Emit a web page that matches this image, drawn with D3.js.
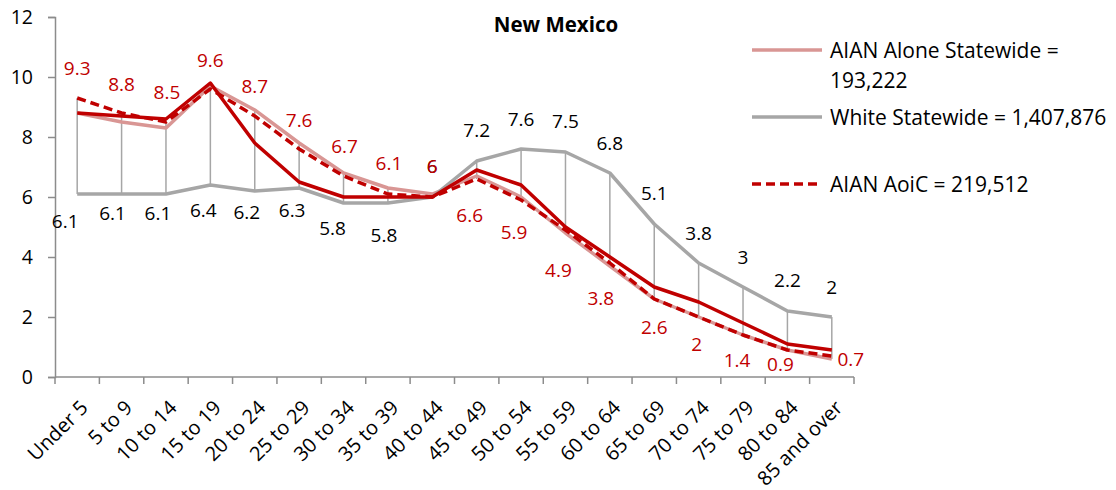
<!DOCTYPE html>
<html>
<head>
<meta charset="utf-8">
<script src="https://cdn.jsdelivr.net/npm/d3@7"></script>
<style>
  html, body { margin: 0; padding: 0; background: #fff; }
  svg { display: block; font-family: "Open Sans", Lato, sans-serif; }
</style>
</head>
<body>
<svg id="chart" width="1116" height="490"></svg>
<script>
// ---------- data ----------
const categories = ["Under 5","5 to 9","10 to 14","15 to 19","20 to 24","25 to 29","30 to 34","35 to 39","40 to 44","45 to 49","50 to 54","55 to 59","60 to 64","65 to 69","70 to 74","75 to 79","80 to 84","85 and over"];
const aianAlone = [8.8, 8.5, 8.3, 9.7, 8.9, 7.8, 6.8, 6.3, 6.1, 6.7, 6.0, 4.8, 3.7, 2.6, 2.0, 1.4, 0.9, 0.6];
const white     = [6.1, 6.1, 6.1, 6.4, 6.2, 6.3, 5.8, 5.8, 6.0, 7.2, 7.6, 7.5, 6.8, 5.1, 3.8, 3.0, 2.2, 2.0];
const aianOther = [8.8, 8.7, 8.6, 9.8, 7.8, 6.5, 6.0, 6.0, 6.0, 6.9, 6.4, 5.0, 4.0, 3.0, 2.5, 1.8, 1.1, 0.9];
const aianAoiC  = [9.3, 8.8, 8.5, 9.6, 8.7, 7.6, 6.7, 6.1, 6.0, 6.6, 5.9, 4.9, 3.8, 2.6, 2.0, 1.4, 0.9, 0.7];
const yTicks = [0, 2, 4, 6, 8, 10, 12];
const title = "New Mexico";
const legendItems = [
  { lines: ["AIAN Alone Statewide =", "193,222"], key: "alone" },
  { lines: ["White Statewide = 1,407,876"], key: "white" },
  { lines: ["AIAN AoiC = 219,512"], key: "aoic" }
];

// ---------- layout / style (not data) ----------
const plot = { left: 55, right: 854, top: 17, bottom: 377 };
const fontSize = 19;
const catFontSize = 20;
const legendFontSize = 21;
const styles = {
  alone: { color: "#d99694", width: 3.5, dash: null },
  white: { color: "#a6a6a6", width: 3.5, dash: null },
  other: { color: "#c00000", width: 3.5, dash: null },
  aoic:  { color: "#c00000", width: 3.5, dash: "9,5" }
};
// label offsets (text centre relative to its point)
const whiteLabelOff = [[-12,27],[-9,19],[-8,19],[-7,25],[-8,21],[-7,22],[-11,25],[-4,32],[0,-31],[0,-31],[0,-30],[0,-31],[0,-30],[0,-31],[0,-30],[0,-30],[0,-31],[0,-30]];
const aoicLabelOff = [[0,-30],[0,-29],[1,-30],[0,-29],[0,-30],[0,-29],[1,-30],[1,-31],[0,-31],[-7,36],[-7,32],[-7,40],[-9,35],[0,28],[-2,27],[-6,25],[-7,14.5],[19,3.5]];

const svg = d3.select("#chart");

const x = d3.scaleBand().domain(categories).range([plot.left, plot.right]).paddingInner(0).paddingOuter(0);
const y = d3.scaleLinear().domain([0, 12]).range([plot.bottom, plot.top]);
const cx = c => x(c) + x.bandwidth() / 2;

// title
svg.append("text")
  .attr("x", 556).attr("y", 32)
  .attr("text-anchor", "middle")
  .attr("font-weight", "bold")
  .attr("font-size", 20.5)
  .attr("fill", "#000")
  .text(title);

// y axis
const yAxis = d3.axisLeft(y).tickValues(yTicks).tickSize(7).tickPadding(15).tickFormat(d3.format("d"));
const gy = svg.append("g").attr("transform", `translate(${plot.left},0)`).call(yAxis);
gy.select(".domain").attr("stroke", "#8c8c8c").attr("stroke-width", 1.5);
gy.selectAll(".tick line").attr("stroke", "#8c8c8c").attr("stroke-width", 1.5);
gy.selectAll(".tick text").attr("font-size", 19.5).attr("font-family", "Open Sans").attr("fill", "#000");

// x axis
const gx = svg.append("g").attr("transform", `translate(0,${plot.bottom})`);
gx.append("line").attr("x1", plot.left).attr("x2", plot.right).attr("y1", 0).attr("y2", 0)
  .attr("stroke", "#8c8c8c").attr("stroke-width", 1.5);
gx.selectAll("line.tk").data(d3.range(categories.length + 1)).join("line")
  .attr("class", "tk")
  .attr("x1", i => plot.left + i * x.step()).attr("x2", i => plot.left + i * x.step())
  .attr("y1", 0).attr("y2", 7)
  .attr("stroke", "#8c8c8c").attr("stroke-width", 1.5);
gx.selectAll("text").data(categories).join("text")
  .attr("transform", d => `translate(${cx(d) + 12},${32}) rotate(-45)`)
  .attr("text-anchor", "end")
  .attr("font-size", catFontSize)
  .attr("fill", "#000")
  .text(d => d);

// high-low lines
const allSeries = [aianAlone, white, aianOther, aianAoiC];
svg.append("g").selectAll("line").data(categories).join("line")
  .attr("x1", d => cx(d)).attr("x2", d => cx(d))
  .attr("y1", (d, i) => y(d3.max(allSeries, s => s[i])))
  .attr("y2", (d, i) => y(d3.min(allSeries, s => s[i])))
  .attr("stroke", "#a6a6a6").attr("stroke-width", 1.5);

// lines
const line = d3.line().x((d, i) => cx(categories[i])).y(d => y(d));
function drawSeries(values, st) {
  svg.append("path").datum(values)
    .attr("d", line)
    .attr("fill", "none")
    .attr("stroke", st.color)
    .attr("stroke-width", st.width)
    .attr("stroke-linejoin", "round")
    .attr("stroke-dasharray", st.dash);
}
drawSeries(aianAlone, styles.alone);
drawSeries(white, styles.white);
drawSeries(aianOther, styles.other);
drawSeries(aianAoiC, styles.aoic);

// data labels
const fmt = v => String(v).replace(/\.0$/, "");
svg.append("g").selectAll("text").data(white).join("text")
  .attr("x", (d, i) => cx(categories[i]) + whiteLabelOff[i][0])
  .attr("y", (d, i) => y(d) + whiteLabelOff[i][1])
  .attr("dy", "0.36em")
  .attr("text-anchor", "middle")
  .attr("font-size", fontSize)
  .attr("fill", "#000")
  .text(d => fmt(d));
svg.append("g").selectAll("text").data(aianAoiC).join("text")
  .attr("x", (d, i) => cx(categories[i]) + aoicLabelOff[i][0])
  .attr("y", (d, i) => y(d) + aoicLabelOff[i][1])
  .attr("dy", "0.36em")
  .attr("text-anchor", "middle")
  .attr("font-size", fontSize)
  .attr("fill", "#c00000")
  .text(d => fmt(d));

// legend
const legendPos = [50, 117, 184];
const lg = svg.append("g");
legendItems.forEach((it, k) => {
  const st = styles[it.key];
  const yy = legendPos[k];
  lg.append("line").attr("x1", 752).attr("x2", 822).attr("y1", yy).attr("y2", yy)
    .attr("stroke", st.color).attr("stroke-width", st.width).attr("stroke-dasharray", st.dash);
  it.lines.forEach((t, j) => {
    lg.append("text").attr("x", 830).attr("y", yy + j * 30).attr("dy", "0.36em")
      .attr("font-size", legendFontSize).attr("fill", "#000").text(t);
  });
});
</script>
</body>
</html>
